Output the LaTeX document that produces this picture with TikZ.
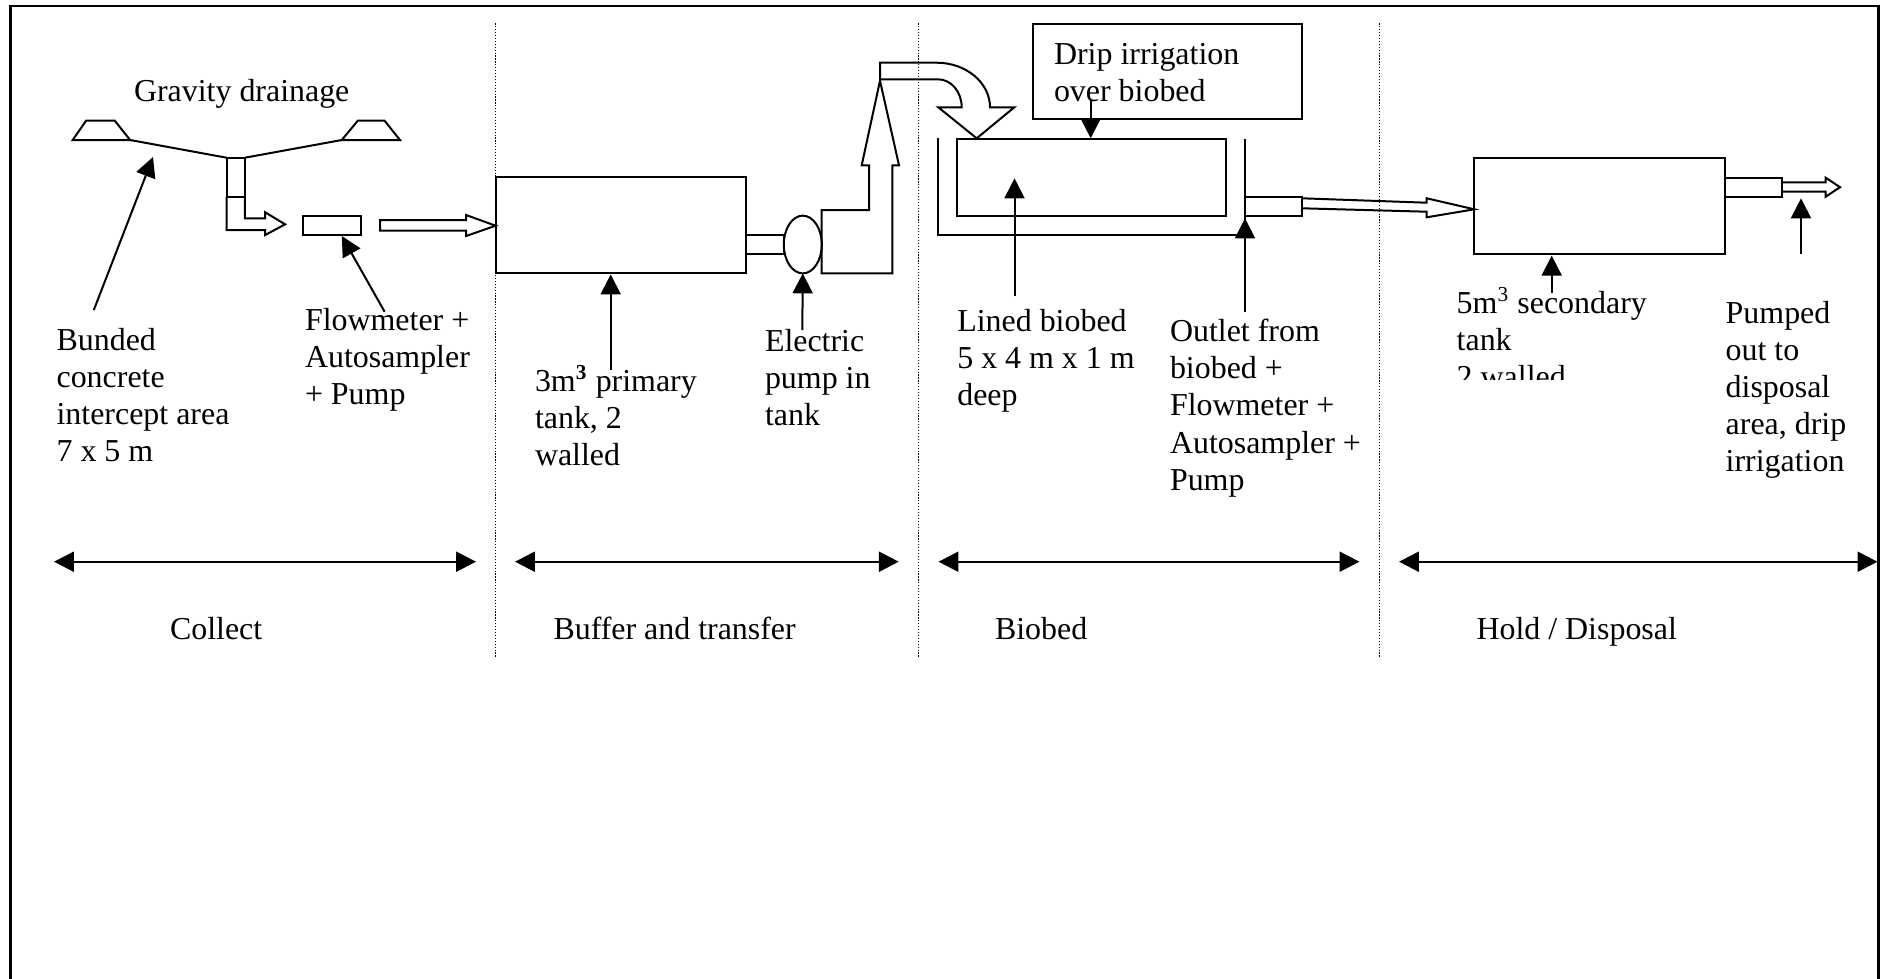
\documentclass[tikz,border=0pt]{standalone}
\usepackage{fontspec}
\setmainfont{Liberation Serif}
\usetikzlibrary{arrows.meta,shapes.geometric}
\newcommand{\mlines}[1]{\vtop{\baselineskip=13.95pt\lineskiplimit=-100pt\halign{##\hfil\cr#1\crcr}}}
\tikzset{
  ln/.style={line width=0.75pt, line join=miter},
  ptr/.style={ln, -{Triangle[length=7.5pt,width=7.5pt]}},
  spanarrow/.style={line width=0.9pt, {Triangle[length=7.5pt,width=7.5pt]}-{Triangle[length=7.5pt,width=7.5pt]}},
  sep/.style={line width=0.45pt, dash pattern=on 0.45pt off 0.65pt},
  txt/.style={anchor=base west, inner sep=0pt, outer sep=0pt, font=\fontsize{12pt}{13.95pt}\selectfont},
  frame/.style={line width=1pt},
  pumpshape/.style={draw, ellipse, line width=0.75pt, inner sep=0pt, outer sep=0pt, minimum width=14.3pt, minimum height=21.7pt}
}
\begin{document}
\begin{tikzpicture}[x=0.3759pt, y=-0.3759pt]
\useasboundingbox (0,0) rectangle (1886,978);

% frame (open at the bottom)
\draw[frame] (10.5,980) -- (10.5,6) -- (1878.5,6) -- (1878.5,980);

% stage separators
\draw[sep] (495.2,23.3) -- (495.2,657);
\draw[sep] (918.3,23.3) -- (918.3,657);
\draw[sep] (1379.5,23.3) -- (1379.5,657);

% ---------- Collect ----------
\draw[ln] (72.7,140) -- (86.1,120.7) -- (114.8,120.7) -- (130.1,140) -- cycle;
\draw[ln] (341.8,140) -- (357.8,120.7) -- (384.6,120.7) -- (400,140) -- cycle;
\draw[ln] (130.1,140) -- (226.6,157.7);
\draw[ln] (244.9,157.7) -- (341.8,140);
\draw[ln] (226.6,157.7) rectangle (244.9,196.7);
\draw[ln] (244.9,196.7) -- (244.9,218.3) -- (265.2,218.3) -- (265.2,212.3) -- (285.1,224.3)
          -- (265.2,235) -- (265.2,230) -- (226.6,230) -- (226.6,196.7);
\draw[ln] (303.1,215.7) rectangle (360.9,235);
\draw[ln] (380,220) -- (466.1,220) -- (466.1,215) -- (495.6,225.7) -- (466.1,236)
          -- (466.1,230.7) -- (380,230.7) -- cycle;

\node[txt] (gravity) at (134,101) {Gravity drainage};
\node[txt] (bunded) at (56.6,350) {\mlines{Bunded\cr concrete\cr intercept area\cr 7 x 5 m}};
\node[txt] (flowlbl) at (305,330) {\mlines{Flowmeter +\cr Autosampler\cr + Pump}};
\coordinate (bundedptr) at (93.8,310);
\coordinate (bundedtip) at (153,157);
\draw[ptr] (bundedptr) -- (bundedtip);
\coordinate (flowptr) at (384.6,311.7);
\coordinate (flowtip) at (341.8,236);
\draw[ptr] (flowptr) -- (flowtip);

% ---------- Buffer and transfer ----------
\draw[ln] (495.7,177.3) rectangle (745.7,273.3);
\draw[ln] (745.7,235) rectangle (784,254);
\node[pumpshape] (pump) at (802.8,244.5) {};
\draw[ln] (821.7,273.3) -- (821.7,210) -- (869,210) -- (869,165.3) -- (861.7,165.3) -- (880,80.7)
          -- (899,165.3) -- (892.3,165.3) -- (892.3,273.3) -- cycle;
\draw[ln] (880,62.7) -- (936.7,62.7) .. controls (966.1,62.7) and (990,82.7) .. (990,107.3)
          -- (1014.3,107.3) -- (976.7,138.3) -- (938.3,107.3) -- (961.7,107.3)
          .. controls (961.7,91.8) and (951.1,79.3) .. (938,79.3) -- (880,79.3) -- cycle;

\node[txt] (tank1lbl) at (535,391) {\mlines{3m\textsuperscript{\textbf{3}} primary\cr tank, 2\cr walled}};
\node[txt] (pumplbl) at (765,351.7) {\mlines{Electric\cr pump in\cr tank}};
\coordinate (tank1ptr) at (610.7,370);
\coordinate (tank1tip) at (610.7,274.4);
\draw[ptr] (tank1ptr) -- (tank1tip);
\coordinate (pumpptr) at (802.3,330);
\draw[ptr] (pumpptr) -- (pump.south);

% ---------- Biobed ----------
\draw[ln] (1032.7,24) rectangle (1302.3,119.3);
\node[txt] (driplbl) at (1054,64) {\mlines{Drip irrigation\cr over biobed}};
\draw[ln] (956.7,139) rectangle (1225.7,215.7);
\draw[ln] (937.7,138.3) -- (937.7,235) -- (1245,235) -- (1245,139.3);
\draw[ln] (1245,196.7) rectangle (1302.3,215.7);
\draw[ln] (1302.3,198.3) -- (1426.7,202.7) -- (1426.7,198.3) -- (1474.3,209.3) -- (1426.7,217.3)
          -- (1426.7,211.7) -- (1302.3,208.3);
\coordinate (dripptr) at (1090.7,100);
\coordinate (driptip) at (1090.7,138.3);
\draw[ptr] (dripptr) -- (driptip);
\node[txt] (bedlbl) at (957.3,331.7) {\mlines{Lined biobed\cr 5 x 4 m x 1 m\cr deep}};
\node[txt] (outletlbl) at (1170,341.7) {\mlines{Outlet from\cr biobed +\cr Flowmeter +\cr Autosampler +\cr Pump}};
\coordinate (bedptr) at (1014.5,296);
\coordinate (bedtip) at (1014.5,178.3);
\draw[ptr] (bedptr) -- (bedtip);
\coordinate (outptr) at (1245,311.7);
\coordinate (outtip) at (1245,218.3);
\draw[ptr] (outptr) -- (outtip);

% ---------- Hold / Disposal ----------
\draw[ln] (1474.3,158.3) rectangle (1725,254.3);
\draw[ln] (1725,177.7) rectangle (1782.3,196.7);
\draw[ln] (1782.3,182.3) -- (1825.7,182.3) -- (1825.7,177.7) -- (1840,187.2) -- (1825.7,196.7)
          -- (1825.7,191.7) -- (1782.3,191.7);
\begin{scope}
  \clip (1440,280) rectangle (1720,379.5);
  \node[txt] (tank2lbl) at (1456.7,313.3) {\mlines{5m\textsuperscript{3} secondary\cr tank\cr 2 walled}};
\end{scope}
\node[txt] (pumpedlbl) at (1725.7,323.3) {\mlines{Pumped\cr out to\cr disposal\cr area, drip\cr irrigation}};
\coordinate (tank2ptr) at (1551.7,293.3);
\coordinate (tank2tip) at (1551.7,255.6);
\draw[ptr] (tank2ptr) -- (tank2tip);
\coordinate (pumpedptr) at (1801,254.3);
\coordinate (pumpedtip) at (1801,198.3);
\draw[ptr] (pumpedptr) -- (pumpedtip);

% ---------- stage spans ----------
\coordinate (s1a) at (54,561.7);   \coordinate (s1b) at (476,561.7);
\coordinate (s2a) at (515,561.7);  \coordinate (s2b) at (898.8,561.7);
\coordinate (s3a) at (938.5,561.7); \coordinate (s3b) at (1359.5,561.7);
\coordinate (s4a) at (1399,561.7); \coordinate (s4b) at (1877.5,561.7);
\draw[spanarrow] (s1a) -- (s1b);
\draw[spanarrow] (s2a) -- (s2b);
\draw[spanarrow] (s3a) -- (s3b);
\draw[spanarrow] (s4a) -- (s4b);

\node[txt] (collect) at (170,639.5) {Collect};
\node[txt] (buffer) at (553.5,639.5) {Buffer and transfer};
\node[txt] (biobed) at (995,639.5) {Biobed};
\node[txt] (hold) at (1476.5,639.5) {Hold / Disposal};
\end{tikzpicture}
\end{document}
